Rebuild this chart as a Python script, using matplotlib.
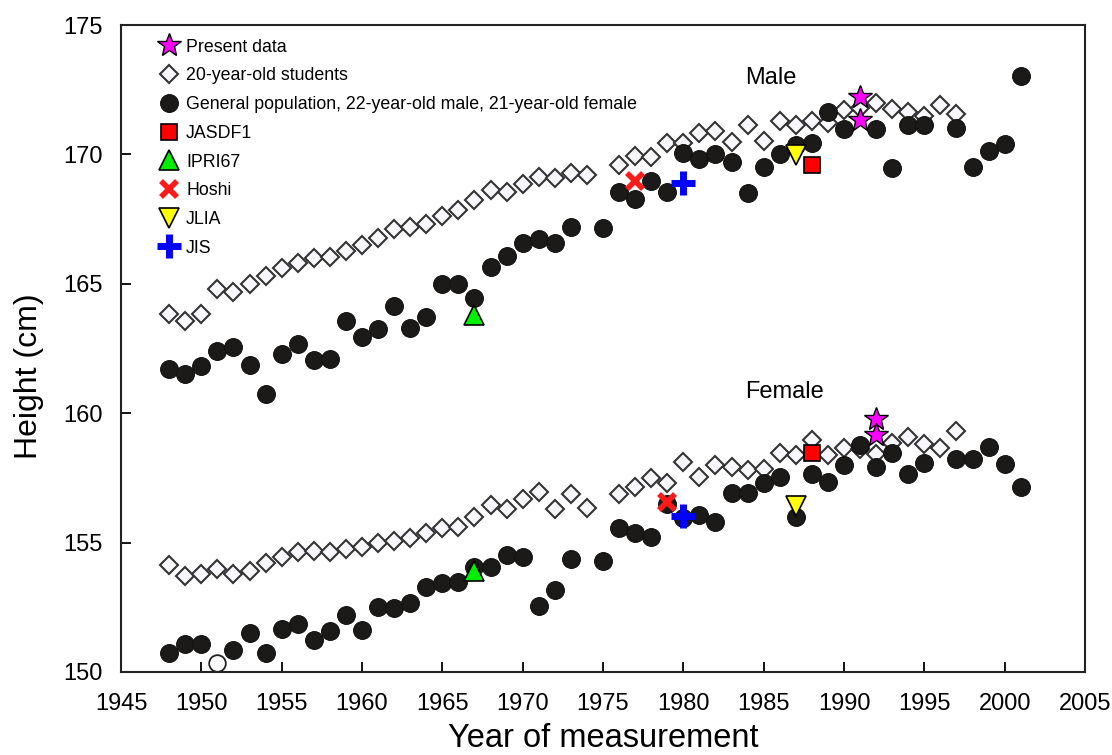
import numpy as np
from matplotlib import pyplot as plt

plt.rcParams['font.family'] = ['Liberation Sans', 'DejaVu Sans']

# 20-year-old students
stud_m_year = [1948, 1949, 1950, 1951, 1952, 1953, 1954, 1955, 1956, 1957, 1958, 1959, 1960,
               1961, 1962, 1963, 1964, 1965, 1966, 1967, 1968, 1969, 1970, 1971, 1972, 1973,
               1974, 1976, 1977, 1978, 1979, 1980, 1981, 1982, 1983, 1984, 1985, 1986, 1987,
               1988, 1989, 1990, 1991, 1992, 1993, 1994, 1995, 1996, 1997]
stud_m = [163.82, 163.57, 163.82, 164.79, 164.70, 165.0, 165.31, 165.6, 165.8, 166.0, 166.05,
          166.27, 166.49, 166.78, 167.1, 167.2, 167.3, 167.63, 167.85, 168.24, 168.62, 168.56,
          168.86, 169.14, 169.07, 169.29, 169.2, 169.59, 169.94, 169.91, 170.45, 170.43, 170.81,
          170.92, 170.49, 171.14, 170.52, 171.3, 171.15, 171.3, 171.2, 171.7, 171.8, 172.0,
          171.75, 171.65, 171.48, 171.9, 171.55]

stud_f_year = [1948, 1949, 1950, 1951, 1952, 1953, 1954, 1955, 1956, 1957, 1958, 1959, 1960,
               1961, 1962, 1963, 1964, 1965, 1966, 1967, 1968, 1969, 1970, 1971, 1972, 1973,
               1974, 1976, 1977, 1978, 1979, 1980, 1981, 1982, 1983, 1984, 1985, 1986, 1987,
               1988, 1989, 1990, 1991, 1992, 1993, 1994, 1995, 1996, 1997]
stud_f = [154.13, 153.71, 153.79, 153.97, 153.79, 153.9, 154.22, 154.45, 154.65, 154.69, 154.65,
          154.74, 154.84, 155.0, 155.07, 155.17, 155.38, 155.55, 155.61, 156.0, 156.45, 156.3,
          156.67, 156.97, 156.29, 156.87, 156.32, 156.87, 157.14, 157.48, 157.29, 158.13, 157.55,
          158.0, 157.91, 157.8, 157.83, 158.45, 158.38, 158.96, 158.38, 158.64, 158.6, 158.42,
          158.84, 159.07, 158.81, 158.64, 159.32]

# general population
gen_m_year = [1948, 1949, 1950, 1951, 1952, 1953, 1954, 1955, 1956, 1957, 1958, 1959, 1960,
              1961, 1962, 1963, 1964, 1965, 1966, 1967, 1968, 1969, 1970, 1971, 1972, 1973,
              1975, 1976, 1977, 1978, 1979, 1980, 1981, 1982, 1983, 1984, 1985, 1986, 1987,
              1988, 1989, 1990, 1992, 1993, 1994, 1995, 1997, 1998, 1999, 2000, 2001]
gen_m = [161.7, 161.51, 161.84, 162.4, 162.57, 161.86, 160.73, 162.29, 162.66, 162.06, 162.08,
         163.56, 162.96, 163.25, 164.15, 163.3, 163.73, 165.0, 164.99, 164.44, 165.66, 166.07,
         166.56, 166.73, 166.56, 167.18, 167.14, 168.53, 168.26, 168.98, 168.53, 170.07, 169.81,
         170.02, 169.69, 168.52, 169.52, 170.02, 170.36, 170.45, 171.65, 170.98, 170.98, 169.48,
         171.12, 171.14, 171.01, 169.52, 170.14, 170.4, 173.04]

gen_f_year = [1948, 1949, 1950, 1952, 1953, 1954, 1955, 1956, 1957, 1958, 1959, 1960, 1961,
              1962, 1963, 1964, 1965, 1966, 1967, 1968, 1969, 1970, 1971, 1972, 1973, 1975,
              1976, 1977, 1978, 1979, 1980, 1981, 1982, 1983, 1984, 1985, 1986, 1987, 1988,
              1989, 1990, 1991, 1992, 1993, 1994, 1995, 1997, 1998, 1999, 2000, 2001]
gen_f = [150.72, 151.1, 151.08, 150.85, 151.49, 150.75, 151.65, 151.85, 151.24, 151.6, 152.2,
         151.62, 152.5, 152.48, 152.68, 153.3, 153.43, 153.47, 154.07, 154.05, 154.52, 154.45,
         152.56, 153.17, 154.35, 154.29, 155.58, 155.36, 155.2, 156.5, 155.95, 156.07, 155.81,
         156.93, 156.9, 157.29, 157.55, 156.0, 157.66, 157.35, 158.0, 158.77, 157.91, 158.45,
         157.65, 158.09, 158.22, 158.22, 158.71, 158.04, 157.14]

# open circle (female 1951)
open_year = [1951]
open_h = [150.34]

# other surveys
present_year = [1991, 1991, 1992, 1992]
present_h = [172.2, 171.33, 159.77, 159.16]
jasdf_year = [1988, 1988]
jasdf_h = [169.59, 158.45]
ipri_year = [1967, 1967]
ipri_h = [163.8, 153.91]
hoshi_year = [1977, 1979]
hoshi_h = [168.97, 156.58]
jlia_year = [1987, 1987]
jlia_h = [169.98, 156.41]
jis_year = [1980, 1980]
jis_h = [168.9, 156.03]

fig = plt.figure(figsize=(11.12, 7.55), dpi=100)
ax = fig.add_axes([121 / 1112, 1 - 672 / 755, 964 / 1112, 647 / 755])

# students (both sexes, one legend entry)
ax.plot(stud_m_year + stud_f_year, stud_m + stud_f, ls='none', marker='D', ms=9.5,
        mfc='#f8f8fc', mec='#333333', mew=1.5, zorder=2, label='20-year-old students')
ax.plot(gen_m_year + gen_f_year, gen_m + gen_f, ls='none', marker='o', ms=12.8,
        mfc='#1c1a18', mec='#111111', mew=0.8, zorder=3,
        label='General population, 22-year-old male, 21-year-old female')
ax.plot(open_year, open_h, ls='none', marker='o', ms=12, mfc='white', mec='#222222', mew=1.3,
        zorder=3)
ax.plot(jasdf_year, jasdf_h, ls='none', marker='s', ms=11, mfc='#ff0000', mec='black',
        mew=1.2, zorder=4, label='JASDF1')
ax.plot(ipri_year, ipri_h, ls='none', marker='^', ms=15, mfc='#00ee00', mec='black',
        mew=1.2, zorder=4, label='IPRI67')
ax.plot(hoshi_year, hoshi_h, ls='none', marker='x', ms=12, mec='#ff1a1a', mew=4,
        zorder=4, label='Hoshi')
ax.plot(jlia_year, jlia_h, ls='none', marker='v', ms=15, mfc='#ffff00', mec='black',
        mew=1.2, zorder=4, label='JLIA')
ax.plot(jis_year, jis_h, ls='none', marker='+', ms=17, mec='#0000ff', mew=5,
        zorder=4, label='JIS')
ax.plot(present_year, present_h, ls='none', marker='*', ms=18, mfc='#ff00ff', mec='black',
        mew=1.0, zorder=5, label='Present data')

handles, labels = ax.get_legend_handles_labels()
order = [7, 0, 1, 2, 3, 4, 5, 6]
ax.legend([handles[i] for i in order], [labels[i] for i in order], loc='upper left',
          bbox_to_anchor=(0.039, 0.979), frameon=False, fontsize=12.8, numpoints=1,
          handlelength=1.2, handletextpad=0.35, labelspacing=0.66, borderpad=0,
          borderaxespad=0)

ax.text(1985.45, 172.96, 'Male', fontsize=17, ha='center', va='center')
ax.text(1986.3, 160.8, 'Female', fontsize=17, ha='center', va='center')

ax.set_xlim(1945, 2005)
ax.set_ylim(150, 175)
ax.set_xticks(np.arange(1945, 2006, 5))
ax.set_yticks(np.arange(150, 176, 5))
ax.tick_params(direction='in', length=7, width=1.3, labelsize=17, top=False, right=False)
ax.tick_params(axis='x', pad=15)
ax.tick_params(axis='y', pad=13)
for s in ax.spines.values():
    s.set_linewidth(1.5)
    s.set_color('#222222')
ax.set_xlabel('Year of measurement', fontsize=23.5, labelpad=6)
ax.set_ylabel('Height (cm)', fontsize=23)
ax.yaxis.set_label_coords(-0.080, 0.4575)

fig.savefig('out.png', dpi=100)
